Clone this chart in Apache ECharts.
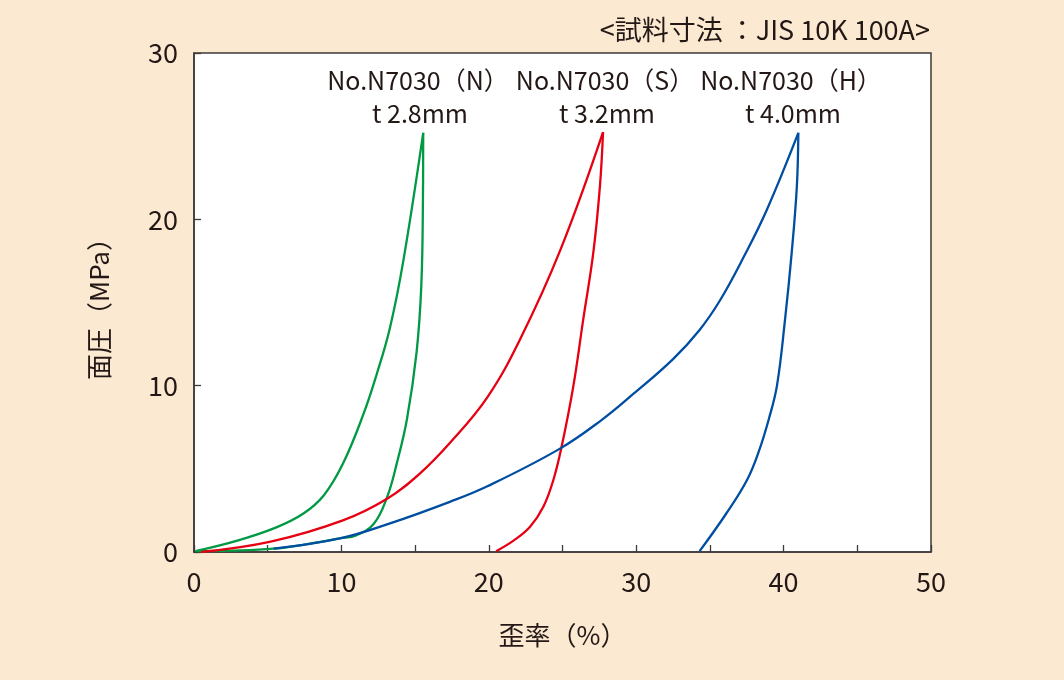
<!DOCTYPE html>
<html><head><meta charset="utf-8">
<script src="https://cdn.jsdelivr.net/npm/echarts@6/dist/echarts.min.js"></script>
<style>html,body{margin:0;padding:0;background:#fbe9d2;}#c{width:1064px;height:680px;}</style>
</head><body><div id="c"></div>
<script>
// ---- data (strain %, surface pressure MPa) ----
const nLoad = [[0.1,0.05],[3,0.7],[5.5,1.45],[7.4,2.3],[8.8,3.4],[10.1,5.3],[11.5,8.3],[12.4,10.7],[13.3,13.5],[14.2,17.5],[15.55,25.2]];
const nUnload = [[15.55,25.2],[15.53,21],[15.42,16],[15.1,12],[14.45,8],[13.75,5.3],[13.1,3.3],[12.2,1.7],[11.0,1.0],[9.9,0.82],[7.5,0.45],[5.4,0.2],[2.5,0.08],[0.2,0.05]];
const sLoad = [[0.5,0],[5.2,0.62],[10.1,1.9],[13.1,3.2],[15.3,4.7],[17.4,6.6],[19.9,9.3],[22.1,12.75],[24.85,18.15],[27.75,25.25]];
const sUnload = [[27.75,25.25],[27.54,22],[27.09,18],[26.41,14],[25.73,9.94],[24.94,6.33],[24.38,4.33],[23.7,2.72],[22.8,1.52],[21.7,0.7],[20.5,0.05]];
const hLoad = [[5.4,0.2],[9.9,0.82],[13.3,1.72],[17.4,3.03],[19.9,3.95],[24.8,6.2],[27.6,7.9],[29.8,9.5],[32.5,11.6],[34.3,13.35],[35.7,15.15],[37.3,17.75],[38.85,20.55],[41.0,25.2]];
const hUnload = [[41.0,25.2],[40.9,22],[40.55,18],[40.1,14],[39.55,10],[39.0,8],[38.3,6],[37.5,4.3],[36.1,2.3],[34.3,0.05]];

const xTickLabels = [0,10,20,30,40,50];
const yTickLabels = [0,10,20,30];
const sampleNames = ['No.N7030（N）','No.N7030（S）','No.N7030（H）'];
const sampleThick = ['t 2.8mm','t 3.2mm','t 4.0mm'];
const noteText = '<試料寸法 ：JIS 10K 100A>';
const xName = '歪率（%）';
const yName = '面圧（MPa）';

// ---- styles ----
const FONT = '"Noto Sans CJK JP", "Noto Sans", sans-serif';
const INK = '#231815';
const FRAME = '#3e3a39';
const colors = {N:'#009944', S:'#e60012', H:'#004ea2'};

const chart = echarts.init(document.getElementById('c'), null, {renderer:'canvas'});

function lineSeries(name, data, color){
  return {name, type:'line', data, smooth:0.4, showSymbol:false, symbol:'none',
    lineStyle:{color, width:2.3}, itemStyle:{color}, animation:false, clip:true};
}

const labelX = [418, 605, 791];

chart.setOption({
  backgroundColor:'#fbe9d2',
  animation:false,
  textStyle:{fontFamily:FONT, color:INK},
  grid:{left:194, top:53, width:737, height:499, show:true, backgroundColor:'#ffffff',
        borderColor:FRAME, borderWidth:1.5, containLabel:false},
  xAxis:{type:'value', min:xTickLabels[0], max:xTickLabels[xTickLabels.length-1], interval:5,
    name:xName, nameLocation:'middle', nameGap:70,
    nameTextStyle:{fontSize:26, color:INK, fontFamily:FONT},
    axisLine:{show:true, lineStyle:{color:FRAME, width:1.5}},
    axisTick:{show:true, inside:true, length:7, lineStyle:{color:FRAME, width:1.3}},
    axisLabel:{fontSize:27, color:INK, margin:16, fontFamily:FONT,
      formatter:v => xTickLabels.includes(v) ? String(v) : ''},
    splitLine:{show:false}},
  yAxis:{type:'value', min:yTickLabels[0], max:yTickLabels[yTickLabels.length-1], interval:10,
    name:yName, nameLocation:'middle', nameGap:82, nameRotate:90,
    nameTextStyle:{fontSize:26, color:INK, fontFamily:FONT},
    axisLine:{show:true, lineStyle:{color:FRAME, width:1.5}},
    axisTick:{show:true, inside:true, length:7, lineStyle:{color:FRAME, width:1.3}},
    axisLabel:{fontSize:27, color:INK, margin:16, fontFamily:FONT,
      formatter:v => String(v)},
    splitLine:{show:false}},
  series:[
    lineSeries('N load', nLoad, colors.N),
    lineSeries('N unload', nUnload, colors.N),
    lineSeries('S load', sLoad, colors.S),
    lineSeries('S unload', sUnload, colors.S),
    lineSeries('H load', hLoad, colors.H),
    lineSeries('H unload', hUnload, colors.H)
  ],
  graphic:[
    {type:'text', right:134, top:16, style:{text:noteText, fontSize:27, fontFamily:FONT, fill:INK}},
    ...sampleNames.map((t,i)=>({type:'text', x:labelX[i], y:80, z:10,
      style:{text:t, fontSize:25, fontFamily:FONT, fill:INK, textAlign:'center', textVerticalAlign:'middle'}})),
    ...sampleThick.map((t,i)=>({type:'text', x:labelX[i]+2, y:113, z:10,
      style:{text:t, fontSize:25, fontFamily:FONT, fill:INK, textAlign:'center', textVerticalAlign:'middle'}}))
  ]
});
</script></body></html>
